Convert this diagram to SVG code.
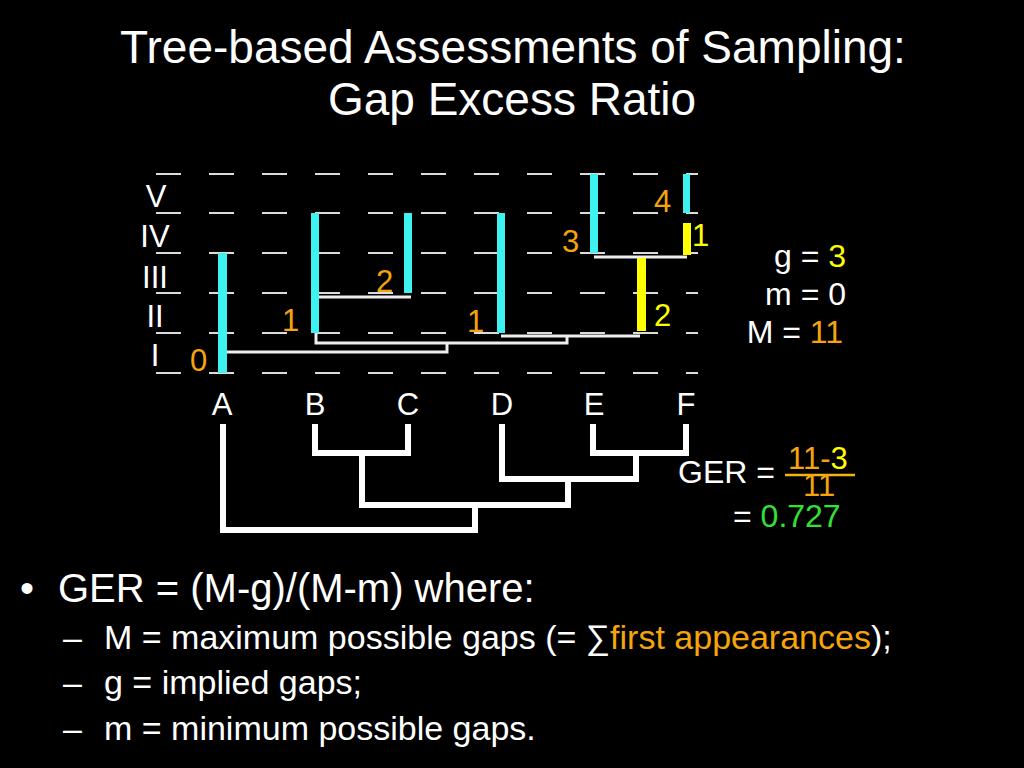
<svg xmlns="http://www.w3.org/2000/svg" width="1024" height="768" viewBox="0 0 1024 768">
<style>
text{font-family:"Liberation Sans",Arial,sans-serif;fill:#ffffff}
.title{font-size:46px;text-anchor:middle}
.lvl{font-size:31px;text-anchor:middle}
.tip{font-size:31px;text-anchor:middle}
.num{font-size:31px}
.st{font-size:32px}
.or{fill:#f5a40c}
.ye{fill:#ffff00}
.gr{fill:#33e033}
.dash{stroke:#dcdcdc;stroke-width:2}
.cy{fill:#3ef2f2}
.yb{fill:#ffff00}
.thin{fill:none;stroke:#eeeeee;stroke-width:3}
.thick{fill:none;stroke:#ffffff;stroke-width:6;stroke-linecap:square;stroke-linejoin:miter}
.b1{font-size:40px}
.b2{font-size:34px}
</style>
<rect x="0" y="0" width="1024" height="768" fill="#000000"/>
<g id="title">
<text class="title" x="513" y="63">Tree-based Assessments of Sampling:</text>
<text class="title" x="512" y="115">Gap Excess Ratio</text>
</g>
<g id="grid">
<path class="dash" d="M156,174h25M209,174h25M262,174h25M315,174h25M368,174h25M421,174h25M474,174h25M527,174h25M580,174h25M633,174h25M686,174h12
M156,213h25M209,213h25M262,213h25M315,213h25M368,213h25M421,213h25M474,213h25M527,213h25M580,213h25M633,213h25M686,213h12
M156,253h25M209,253h25M262,253h25M315,253h25M368,253h25M421,253h25M474,253h25M527,253h25M580,253h25M633,253h25M686,253h12
M156,293h25M209,293h25M262,293h25M315,293h25M368,293h25M421,293h25M474,293h25M527,293h25M580,293h25M633,293h25M686,293h12
M156,333h25M209,333h25M262,333h25M315,333h25M368,333h25M421,333h25M474,333h25M527,333h25M580,333h25M633,333h25M686,333h12
M156,373h25M209,373h25M262,373h25M315,373h25M368,373h25M421,373h25M474,373h25M527,373h25M580,373h25M633,373h25M686,373h12"/>
</g>
<g id="levels">
<text class="lvl" x="156" y="207">V</text>
<text class="lvl" x="155" y="247">IV</text>
<text class="lvl" x="155" y="288">III</text>
<text class="lvl" x="155" y="327">II</text>
<text class="lvl" x="155" y="366">I</text>
</g>
<g id="upper-links">
<path class="thin" d="M319,297H411"/>
<path class="thin" d="M594,257H687"/>
<path class="thin" d="M501,336H640"/>
<path class="thin" d="M316,333V343H567V336"/>
<path class="thin" d="M226,352H447V343"/>
</g>
<g id="bars">
<rect id="barA" class="cy" x="218" y="253" width="9" height="120"/>
<rect id="barB" class="cy" x="311" y="213" width="8" height="120"/>
<rect id="barC" class="cy" x="404" y="213" width="8" height="80"/>
<rect id="barD" class="cy" x="497" y="213" width="8" height="120"/>
<rect id="barE" class="cy" x="590" y="174" width="8" height="79"/>
<rect id="barF" class="cy" x="683" y="174" width="7" height="39"/>
<rect id="barFy" class="yb" x="683" y="223" width="8" height="32"/>
<rect id="barEFy" class="yb" x="637" y="258" width="9" height="73"/>
</g>
<g id="counts">
<text class="num or" x="190" y="371">0</text>
<text class="num or" x="282" y="331">1</text>
<text class="num or" x="376" y="292">2</text>
<text class="num or" x="467" y="332">1</text>
<text class="num or" x="562" y="252">3</text>
<text class="num or" x="654" y="212">4</text>
<text class="num ye" x="692" y="246">1</text>
<text class="num ye" x="654" y="326">2</text>
</g>
<g id="tips">
<text class="tip" x="222" y="415">A</text>
<text class="tip" x="315" y="415">B</text>
<text class="tip" x="408" y="415">C</text>
<text class="tip" x="502" y="415">D</text>
<text class="tip" x="594" y="415">E</text>
<text class="tip" x="686" y="415">F</text>
</g>
<g id="tree">
<path class="thick" d="M223,427V530H475V505"/>
<path class="thick" d="M315,427V453H408V427"/>
<path class="thick" d="M362,453V505H568V479"/>
<path class="thick" d="M502,427V479H636V453"/>
<path class="thick" d="M593,427V453H686V427"/>
</g>
<g id="stats">
<text class="st" x="846" y="267" text-anchor="end">g = <tspan class="ye">3</tspan></text>
<text class="st" x="846" y="305" text-anchor="end">m = 0</text>
<text class="st" x="843" y="343" text-anchor="end">M = <tspan class="or">11</tspan></text>
</g>
<g id="ger">
<text class="st" x="678" y="483">GER =</text>
<text class="num" x="788" y="469"><tspan class="or">11-</tspan><tspan class="ye">3</tspan></text>
<path d="M785,475H855" stroke="#f5b40c" stroke-width="2.5"/>
<text class="num or" x="803" y="496">11</text>
<text class="st" x="733" y="527">= <tspan class="gr">0.727</tspan></text>
</g>
<g id="bullets">
<text class="b1" x="20" y="602">•</text>
<text class="b1" x="58" y="602">GER = (M-g)/(M-m) where:</text>
<text class="b2" x="63" y="649">–</text>
<text class="b2" x="104" y="649">M = maximum possible gaps (= ∑<tspan class="or">first appearances</tspan>);</text>
<text class="b2" x="63" y="694">–</text>
<text class="b2" x="104" y="694">g = implied gaps;</text>
<text class="b2" x="63" y="740">–</text>
<text class="b2" x="104" y="740">m = minimum possible gaps.</text>
</g>
</svg>
